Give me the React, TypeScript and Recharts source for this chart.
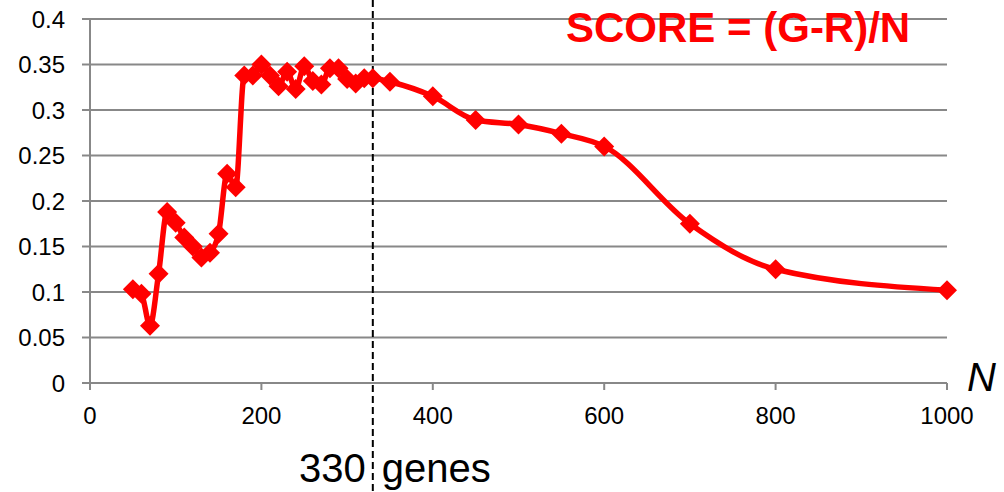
import { LineChart, Line, XAxis, YAxis, CartesianGrid, ReferenceLine } from 'recharts'

// gene count N and the matching score
const N_VALUES = [
  50, 60, 70, 80, 90, 100, 110, 120, 130, 140, 150, 160, 170, 180, 190, 200, 210, 220, 230,
  240, 250, 260, 270, 280, 290, 300, 310, 320, 330, 350, 400, 450, 500, 550, 600, 700, 800, 1000,
]
const SCORES = [
  0.103, 0.098, 0.063, 0.12, 0.188, 0.176, 0.16, 0.15, 0.138, 0.143, 0.164, 0.23, 0.215, 0.338,
  0.338, 0.35, 0.338, 0.326, 0.342, 0.323, 0.348, 0.332, 0.328, 0.346, 0.346, 0.334, 0.329,
  0.335, 0.335, 0.331, 0.315, 0.289, 0.284, 0.274, 0.26, 0.175, 0.125, 0.102,
]
const X_TICKS = [0, 200, 400, 600, 800, 1000]
const Y_TICKS = [0, 0.05, 0.1, 0.15, 0.2, 0.25, 0.3, 0.35, 0.4]
const GENE_CUTOFF = 330

const data = N_VALUES.map((n, i) => ({ n, score: SCORES[i] }))

const FONT = '"Liberation Sans", Arial, sans-serif'
const GRAY = '#888888'
const RED = '#ff0000'

function Diamond(props: any) {
  const { cx, cy, index } = props
  if (cx == null || cy == null) return <g key={`d-${index}`} />
  const r = 10
  return (
    <polygon
      key={`d-${index}`}
      points={`${cx},${cy - r} ${cx + r},${cy} ${cx},${cy + r} ${cx - r},${cy}`}
      fill={RED}
    />
  )
}

// dashed cutoff line runs the full height, with its label under the axis
function CutoffLine(props: any) {
  const x = props.x1
  return (
    <g>
      <line x1={x} y1={0} x2={x} y2={492} stroke="#000" strokeWidth={2} strokeDasharray="7 4" />
      <text y={482} fontSize={40} fontFamily={FONT} fill="#000">
        <tspan x={x - 7} textAnchor="end">{GENE_CUTOFF}</tspan>
        <tspan x={x + 9} textAnchor="start">genes</tspan>
      </text>
    </g>
  )
}

export default function App() {
  return (
    <div style={{ position: 'absolute', top: 0, left: 0, width: 1004, height: 492, background: '#fff' }}>
      <LineChart
        width={1004}
        height={492}
        data={data}
        margin={{ top: 19, right: 57, bottom: 79, left: 0 }}
      >
        <CartesianGrid vertical={false} stroke={GRAY} strokeWidth={2} />
        <XAxis
          dataKey="n"
          type="number"
          domain={[0, 1000]}
          ticks={X_TICKS}
          height={30}
          tickSize={7}
          tickMargin={17}
          axisLine={{ stroke: GRAY, strokeWidth: 2 }}
          tickLine={{ stroke: GRAY, strokeWidth: 2 }}
          tick={{ fontSize: 24, fontFamily: FONT, fill: '#000' }}
        />
        <YAxis
          type="number"
          domain={[0, 0.4]}
          ticks={Y_TICKS}
          width={90}
          tickSize={8}
          tickMargin={17}
          axisLine={{ stroke: GRAY, strokeWidth: 2 }}
          tickLine={{ stroke: GRAY, strokeWidth: 2 }}
          tick={{ fontSize: 24, fontFamily: FONT, fill: '#000' }}
        />
        <Line
          dataKey="score"
          type="monotone"
          stroke={RED}
          strokeWidth={5.5}
          dot={Diamond}
          activeDot={false}
          isAnimationActive={false}
        />
        <ReferenceLine x={GENE_CUTOFF} shape={CutoffLine} />
      </LineChart>
      <svg
        width={1004}
        height={492}
        style={{ position: 'absolute', top: 0, left: 0, pointerEvents: 'none' }}
      >
        <text x={566} y={42} fontSize={42} fontWeight="bold" fontFamily={FONT} fill={RED}>
          SCORE = (G-R)/N
        </text>
        <text x={967} y={391} fontSize={40} fontStyle="italic" fontFamily={FONT} fill="#000">
          N
        </text>
      </svg>
    </div>
  )
}
